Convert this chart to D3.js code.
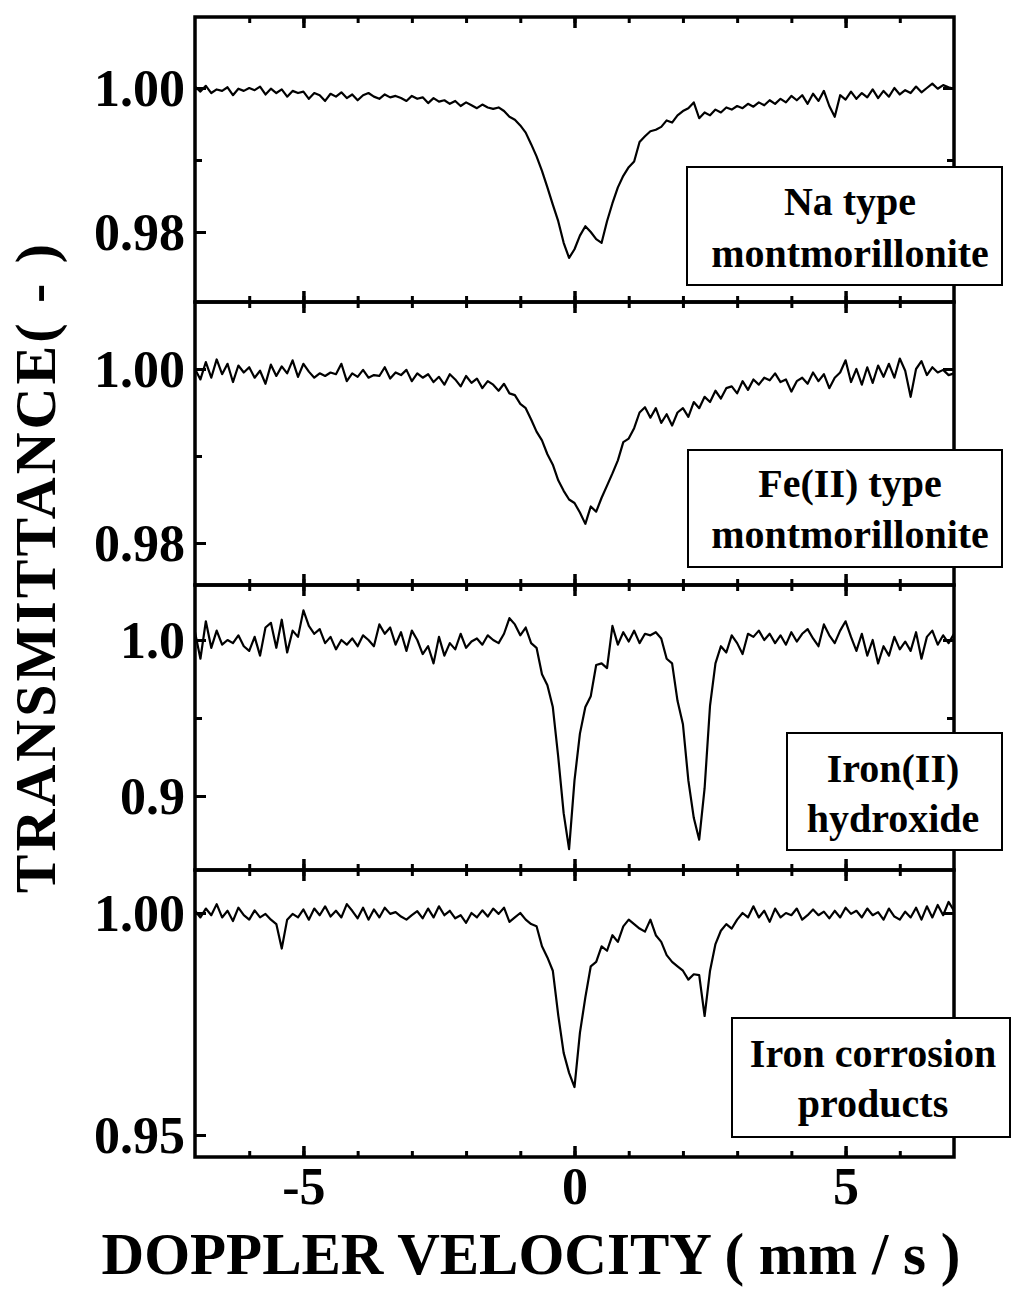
<!DOCTYPE html>
<html><head><meta charset="utf-8">
<script src="https://cdn.jsdelivr.net/npm/d3@7"></script>
<style>
body{margin:0;background:#fff;}
svg{display:block;}
text{font-family:"Liberation Serif","Times New Roman",serif;font-weight:bold;fill:#000;}
</style></head><body>
<svg id="chart" width="1016" height="1293"></svg>
<script>
// Doppler velocity channels (mm/s)
const velocity = [
-7.0,-6.9,-6.8,-6.7,-6.6,-6.5,-6.4,-6.3,-6.2,-6.1,
-6.0,-5.9,-5.8,-5.7,-5.6,-5.5,-5.4,-5.3,-5.2,-5.1,
-5.0,-4.9,-4.8,-4.7,-4.6,-4.5,-4.4,-4.3,-4.2,-4.1,
-4.0,-3.9,-3.8,-3.7,-3.6,-3.5,-3.4,-3.3,-3.2,-3.1,
-3.0,-2.9,-2.8,-2.7,-2.6,-2.5,-2.4,-2.3,-2.2,-2.1,
-2.0,-1.9,-1.8,-1.7,-1.6,-1.5,-1.4,-1.3,-1.2,-1.1,
-1.0,-0.9,-0.8,-0.7,-0.6,-0.5,-0.4,-0.3,-0.2,-0.1,
0.0,0.1,0.2,0.3,0.4,0.5,0.6,0.7,0.8,0.9,
1.0,1.1,1.2,1.3,1.4,1.5,1.6,1.7,1.8,1.9,
2.0,2.1,2.2,2.3,2.4,2.5,2.6,2.7,2.8,2.9,
3.0,3.1,3.2,3.3,3.4,3.5,3.6,3.7,3.8,3.9,
4.0,4.1,4.2,4.3,4.4,4.5,4.6,4.7,4.8,4.9,
5.0,5.1,5.2,5.3,5.4,5.5,5.6,5.7,5.8,5.9,
6.0,6.1,6.2,6.3,6.4,6.5,6.6,6.7,6.8,6.9,
7.0];

// Transmittance, Na type montmorillonite
const naType = [
1.0002,0.9995,1.0003,0.9993,0.9998,0.9996,1.0001,0.9990,0.9999,0.9996,
1.0000,0.9997,1.0002,0.9991,0.9999,0.9993,0.9998,0.9988,0.9996,0.9993,
0.9995,0.9985,0.9993,0.9990,0.9982,0.9992,0.9988,0.9994,0.9986,0.9991,
0.9983,0.9990,0.9993,0.9988,0.9985,0.9991,0.9987,0.9989,0.9986,0.9982,
0.9989,0.9985,0.9987,0.9979,0.9986,0.9981,0.9983,0.9978,0.9982,0.9975,
0.9980,0.9976,0.9972,0.9977,0.9973,0.9971,0.9973,0.9968,0.9960,0.9956,
0.9948,0.9938,0.9922,0.9905,0.9885,0.9862,0.9838,0.9815,0.9785,0.9764,
0.9776,0.9795,0.9808,0.9800,0.9790,0.9785,0.9815,0.9840,0.9862,0.9878,
0.9890,0.9898,0.9925,0.9933,0.9940,0.9942,0.9946,0.9955,0.9952,0.9962,
0.9968,0.9972,0.9980,0.9958,0.9966,0.9962,0.9970,0.9966,0.9973,0.9970,
0.9975,0.9972,0.9978,0.9974,0.9980,0.9976,0.9983,0.9978,0.9985,0.9980,
0.9989,0.9983,0.9990,0.9978,0.9992,0.9982,0.9996,0.9975,0.9960,0.9990,
0.9984,0.9995,0.9985,0.9993,0.9987,0.9998,0.9986,0.9996,0.9988,1.0000,
0.9991,0.9997,0.9993,1.0002,0.9994,1.0000,1.0006,0.9999,1.0004,1.0001,
0.9999];

// Transmittance, Fe(II) type montmorillonite
const fe2Type = [
1.0000,0.9988,1.0008,0.9990,1.0011,0.9994,1.0006,0.9985,1.0004,0.9996,
1.0002,0.9990,0.9998,0.9983,1.0005,0.9992,1.0003,0.9995,1.0010,0.9991,
1.0006,0.9997,0.9990,0.9995,0.9992,0.9996,0.9994,1.0006,0.9986,0.9995,
0.9991,0.9999,0.9990,0.9993,0.9992,1.0002,0.9989,0.9996,0.9993,0.9999,
0.9986,0.9995,0.9990,0.9994,0.9985,0.9991,0.9982,0.9994,0.9988,0.9980,
0.9992,0.9984,0.9989,0.9978,0.9986,0.9982,0.9975,0.9983,0.9972,0.9970,
0.9960,0.9955,0.9942,0.9928,0.9918,0.9902,0.9890,0.9872,0.9860,0.9850,
0.9846,0.9835,0.9822,0.9842,0.9836,0.9852,0.9866,0.9880,0.9895,0.9916,
0.9920,0.9932,0.9950,0.9956,0.9944,0.9955,0.9938,0.9948,0.9935,0.9950,
0.9955,0.9945,0.9962,0.9955,0.9968,0.9962,0.9975,0.9966,0.9978,0.9980,
0.9972,0.9986,0.9976,0.9988,0.9982,0.9990,0.9987,0.9995,0.9985,0.9988,
0.9974,0.9986,0.9990,0.9983,0.9996,0.9986,0.9994,0.9978,0.9990,0.9996,
1.0010,0.9985,1.0000,0.9982,1.0002,0.9984,1.0004,0.9991,1.0006,0.9990,
1.0012,0.9998,0.9968,1.0000,1.0009,0.9993,1.0002,0.9996,0.9999,0.9993,
0.9995];

// Transmittance, Iron(II) hydroxide
const ironHydroxide = [
1.005,0.988,1.012,0.995,1.006,0.997,1.000,0.998,1.003,0.996,
0.993,1.002,0.990,1.008,1.011,0.995,1.013,0.992,1.006,1.002,
1.019,1.009,1.004,1.007,0.998,1.002,0.994,1.000,0.997,1.001,
0.996,1.003,1.000,0.996,1.010,1.004,1.008,0.997,1.005,0.993,
1.006,1.000,0.991,0.996,0.985,1.002,0.990,0.998,0.994,1.004,
0.995,0.999,1.001,0.997,1.003,1.000,0.998,1.004,1.014,1.010,
1.003,1.008,0.998,0.995,0.978,0.971,0.957,0.925,0.889,0.866,
0.910,0.940,0.957,0.964,0.984,0.985,0.982,1.009,0.997,1.005,
0.999,1.006,0.998,1.004,1.003,1.005,1.001,0.988,0.985,0.961,
0.946,0.910,0.886,0.872,0.905,0.958,0.985,0.996,0.992,1.003,
0.998,0.991,1.004,1.002,1.006,1.000,1.004,0.998,1.003,0.997,
1.005,0.999,1.004,1.007,1.001,0.996,1.010,1.003,0.998,1.006,
1.012,1.002,0.993,1.004,0.990,1.000,0.985,0.996,0.990,1.002,
0.994,0.999,0.993,1.005,0.988,1.002,1.006,0.997,1.003,0.998,
1.004];

// Transmittance, Iron corrosion products
const corrosion = [
1.0005,0.9990,1.0010,0.9995,1.0020,0.9990,1.0005,0.9982,1.0012,0.9995,
0.9985,1.0006,0.9990,0.9998,0.9985,0.9975,0.9920,0.9985,0.9998,0.9990,
1.0008,0.9985,1.0010,0.9995,1.0015,0.9992,1.0005,0.9990,1.0020,1.0005,
0.9988,1.0012,0.9985,1.0008,0.9990,1.0012,0.9998,1.0002,0.9992,0.9985,
0.9995,1.0004,0.9988,1.0010,0.9990,1.0015,0.9995,1.0005,0.9988,0.9995,
0.9978,1.0000,0.9990,1.0006,0.9992,1.0010,0.9998,1.0012,0.9980,0.9990,
1.0000,0.9985,0.9975,0.9970,0.9925,0.9900,0.9870,0.9770,0.9685,0.9640,
0.9608,0.9730,0.9810,0.9880,0.9890,0.9925,0.9915,0.9950,0.9935,0.9970,
0.9985,0.9975,0.9965,0.9958,0.9985,0.9950,0.9935,0.9905,0.9890,0.9880,
0.9870,0.9850,0.9862,0.9860,0.9768,0.9870,0.9930,0.9960,0.9975,0.9965,
0.9985,1.0000,0.9990,1.0015,0.9990,1.0005,0.9980,1.0010,0.9990,1.0000,
0.9995,1.0010,0.9985,0.9995,1.0008,0.9995,1.0003,0.9988,1.0005,0.9990,
1.0012,0.9998,1.0005,0.9990,1.0010,0.9995,1.0002,0.9985,1.0010,0.9992,
0.9985,1.0003,0.9990,1.0012,0.9985,1.0015,0.9990,1.0018,0.9995,1.0025,
1.0005];

const seriesList = [naType, fe2Type, ironHydroxide, corrosion];
const panelLabels = [["Na type","montmorillonite"],["Fe(II) type","montmorillonite"],["Iron(II)","hydroxide"],["Iron corrosion","products"]];
const yMajorTicks = [[0.98,1.00],[0.98,1.00],[0.9,1.0],[0.95,1.00]];
const yMinorTicks = [[0.99],[0.99],[0.95],[]];
const yTickFormats = [".2f",".2f",".1f",".2f"];
const xDomain = [-7, 7];
const xMajorTicks = [-5, 0, 5];
const xMinorTicks = [-6,-5,-4,-3,-2,-1,0,1,2,3,4,5,6];
const xTitle = "DOPPLER VELOCITY ( mm / s )";
const yTitle = "TRANSMITTANCE( - )";

// ---- layout ----
const L = 195, R = 954;
const panels = [
  {top:17,  bottom:302,  ref:[0.98,232, 1.00,88]},
  {top:302, bottom:585,  ref:[0.98,543, 1.00,369]},
  {top:585, bottom:870,  ref:[0.9,796,  1.0,640]},
  {top:870, bottom:1157, ref:[0.95,1135,1.00,913]}
];
const boxes = [
  {x:687, y:167,  w:315, h:118, cx:850, b1:215,  b2:267},
  {x:688, y:450,  w:314, h:117, cx:850, b1:497,  b2:548},
  {x:787, y:733,  w:215, h:117, cx:893, b1:782,  b2:832},
  {x:732, y:1018, w:278, h:119, cx:873, b1:1067, b2:1117}
];

const svg = d3.select("#chart");
svg.append("rect").attr("width",1016).attr("height",1293).attr("fill","#fff");
const x = d3.scaleLinear().domain(xDomain).range([L, R]);

function styleAxis(g, w){
  g.select(".domain").remove();
  g.selectAll(".tick line").attr("stroke","#000").attr("stroke-width",w);
}

panels.forEach((p, i) => {
  const y = d3.scaleLinear().domain([p.ref[0], p.ref[2]]).range([p.ref[1], p.ref[3]]);
  const g = svg.append("g");

  // trace
  const data = velocity.map((v, k) => [v, seriesList[i][k]]);
  g.append("path").datum(data)
    .attr("fill","none").attr("stroke","#000").attr("stroke-width",2.2)
    .attr("stroke-linejoin","round")
    .attr("d", d3.line().x(d => x(d[0])).y(d => y(d[1])));

  // x ticks top (inward) and bottom (inward)
  [[d3.axisBottom, p.top],[d3.axisTop, p.bottom]].forEach(([ax, yy]) => {
    g.append("g").attr("transform",`translate(0,${yy})`)
      .call(ax(x).tickValues(xMinorTicks).tickSize(6).tickFormat(""))
      .call(s => styleAxis(s, 3));
    g.append("g").attr("transform",`translate(0,${yy})`)
      .call(ax(x).tickValues(xMajorTicks).tickSize(11).tickFormat(""))
      .call(s => styleAxis(s, 3.5));
  });
  // y ticks left (inward) and right (inward)
  [[d3.axisRight, L],[d3.axisLeft, R]].forEach(([ax, xx]) => {
    g.append("g").attr("transform",`translate(${xx},0)`)
      .call(ax(y).tickValues(yMinorTicks[i]).tickSize(7).tickFormat(""))
      .call(s => styleAxis(s, 3));
    g.append("g").attr("transform",`translate(${xx},0)`)
      .call(ax(y).tickValues(yMajorTicks[i]).tickSize(11).tickFormat(""))
      .call(s => styleAxis(s, 3));
  });
  // y tick labels
  g.append("g").attr("transform",`translate(${L},0)`)
    .call(d3.axisLeft(y).tickValues(yMajorTicks[i]).tickSize(0).tickPadding(10).tickFormat(d3.format(yTickFormats[i])))
    .call(s => { s.select(".domain").remove();
      s.selectAll("text").attr("font-size",52).attr("font-family",null).attr("fill","#000").attr("dy","0.34em"); });

  // frame
  g.append("rect").attr("x",L).attr("y",p.top).attr("width",R-L).attr("height",p.bottom-p.top)
    .attr("fill","none").attr("stroke","#000").attr("stroke-width",3.5);
});

// x tick labels
svg.append("g").attr("transform",`translate(0,${panels[3].bottom})`)
  .call(d3.axisBottom(x).tickValues(xMajorTicks).tickSize(0).tickPadding(10)
        .tickFormat(d => d < 0 ? "-" + Math.abs(d) : String(d)))
  .call(s => { s.select(".domain").remove();
    s.selectAll("text").attr("font-size",52).attr("font-family",null).attr("fill","#000"); });

// label boxes
boxes.forEach((b, i) => {
  svg.append("rect").attr("x",b.x).attr("y",b.y).attr("width",b.w).attr("height",b.h)
    .attr("fill","#fff").attr("stroke","#000").attr("stroke-width",2);
  svg.append("text").attr("x",b.cx).attr("y",b.b1).attr("text-anchor","middle")
    .attr("font-size",40).text(panelLabels[i][0]);
  svg.append("text").attr("x",b.cx).attr("y",b.b2).attr("text-anchor","middle")
    .attr("font-size",40).text(panelLabels[i][1]);
});

// axis titles
svg.append("text").attr("x",531).attr("y",1274).attr("text-anchor","middle")
  .attr("font-size",59).text(xTitle);
svg.append("text").attr("transform","translate(55,567) rotate(-90)").attr("text-anchor","middle")
  .attr("font-size",58).attr("letter-spacing",3).text(yTitle);
</script>
</body></html>
